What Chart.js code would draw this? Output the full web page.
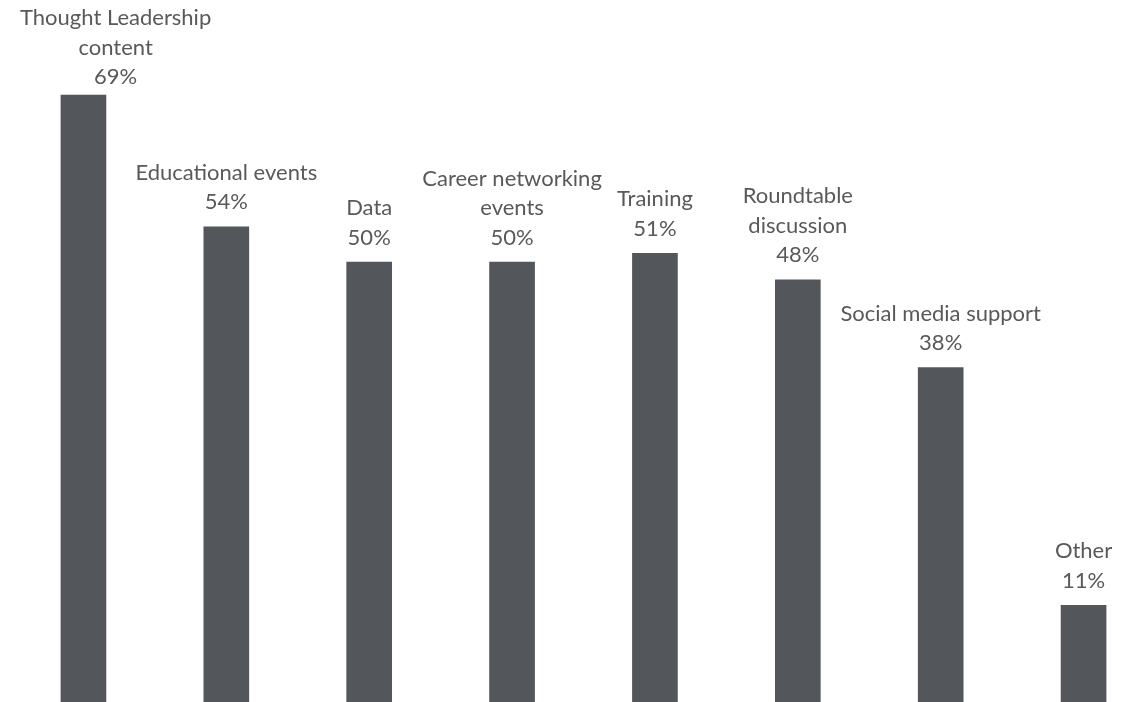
<!DOCTYPE html>
<html>
<head>
<meta charset="utf-8">
<script src="https://cdn.jsdelivr.net/npm/chart.js@4"></script>
<style>
  html, body { margin: 0; padding: 0; background: #fff; overflow: hidden; }
  #wrap { position: absolute; left: 12px; top: 0; width: 1143px; height: 702px; }
</style>
</head>
<body>
<div id="wrap"><canvas id="chart"></canvas></div>
<script>
// category names, one array entry per printed line
const categories = [
  ['Thought Leadership', 'content'],
  ['Educational events'],
  ['Data'],
  ['Career networking', 'events'],
  ['Training'],
  ['Roundtable', 'discussion'],
  ['Social media support'],
  ['Other']
];
const shares = [69, 54, 50, 50, 51, 48, 38, 11];

const barColor = '#53565a';
const textColor = '#595959';
const labelFont = '22px Lato';
const lineHeight = 29.5;

// name + percentage stacked above each bar
const barLabels = {
  id: 'barLabels',
  afterDatasetsDraw(chart) {
    const ctx = chart.ctx;
    const meta = chart.getDatasetMeta(0);
    ctx.save();
    ctx.font = labelFont;
    ctx.fillStyle = textColor;
    ctx.textAlign = 'center';
    ctx.textBaseline = 'alphabetic';
    meta.data.forEach((bar, i) => {
      const lines = categories[i].concat([shares[i] + '%']);
      const w = Math.max(...lines.map(l => ctx.measureText(l).width));
      let cx = bar.x;
      if (cx - w / 2 < 8) cx = 8 + w / 2;
      let first = bar.y - 17.5 - (lines.length - 1) * lineHeight;
      if (first < 25) first = 25;
      lines.forEach((l, k) => ctx.fillText(l, cx, first + k * lineHeight));
    });
    ctx.restore();
  }
};

new Chart(document.getElementById('chart'), {
  type: 'bar',
  data: {
    labels: categories,
    datasets: [{
      data: shares,
      backgroundColor: barColor,
      barThickness: 45
    }]
  },
  options: {
    responsive: true,
    maintainAspectRatio: false,
    animation: false,
    layout: { padding: { top: 7, left: 0, right: 0, bottom: 0 } },
    plugins: { legend: { display: false }, tooltip: { enabled: false } },
    scales: {
      x: { display: false },
      y: { display: false, min: 0, max: 79 }
    }
  },
  plugins: [barLabels]
});
</script>
</body>
</html>
